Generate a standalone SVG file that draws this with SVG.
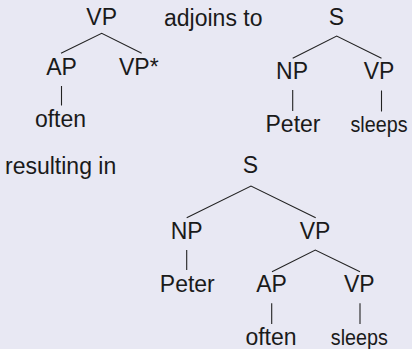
<svg xmlns="http://www.w3.org/2000/svg" width="412" height="349" viewBox="0 0 412 349">
  <style>
    text { font-family: "Liberation Sans", Arial, sans-serif; font-size: 23px; fill: #1a1a1a; }
    .c { text-anchor: middle; }
    .narrow { font-size: 21.5px; }
    .edge { stroke: #222; stroke-width: 1.1; fill: none; }
  </style>
  <rect width="412" height="349" fill="#e8e8f3"/>

  <!-- auxiliary tree: VP -> AP VP* -->
  <g id="t1-vp"><text class="c" x="101.7" y="25.3">VP</text></g>
  <g id="t1-ap"><text class="c" x="61.5" y="75">AP</text></g>
  <g id="t1-vpfoot"><text x="119" y="75">VP*</text></g>
  <g id="t1-often"><text class="c" x="60.5" y="126.7">often</text></g>

  <g id="label-adjoins"><text x="164" y="25.5">adjoins to</text></g>

  <!-- initial tree: S -> NP VP -->
  <g id="t2-s"><text class="c" x="336.3" y="25">S</text></g>
  <g id="t2-np"><text class="c" x="292" y="79">NP</text></g>
  <g id="t2-vp"><text class="c" x="379" y="79">VP</text></g>
  <g id="t2-peter"><text class="c" x="293" y="131.7">Peter</text></g>
  <g id="t2-sleeps"><text class="c narrow" x="379" y="131.7" textLength="57" lengthAdjust="spacingAndGlyphs">sleeps</text></g>

  <g id="label-resulting"><text x="5" y="174">resulting in</text></g>

  <!-- derived tree -->
  <g id="t3-s"><text class="c" x="250.3" y="173">S</text></g>
  <g id="t3-np"><text class="c" x="186.7" y="239">NP</text></g>
  <g id="t3-vp"><text class="c" x="315" y="239">VP</text></g>
  <g id="t3-peter"><text class="c" x="187.3" y="291.7">Peter</text></g>
  <g id="t3-ap"><text class="c" x="271.5" y="292.3">AP</text></g>
  <g id="t3-vp2"><text class="c" x="359.3" y="292.3">VP</text></g>
  <g id="t3-often"><text class="c" x="271" y="344.6">often</text></g>
  <g id="t3-sleeps"><text class="c narrow" x="359.3" y="344.6" textLength="57" lengthAdjust="spacingAndGlyphs">sleeps</text></g>

  <g id="edges" class="edge">
    <polyline class="edge" points="61,53.3 101.7,33.3 141.7,53.3"/>
    <line class="edge" x1="61.5" y1="86" x2="61.5" y2="105.5"/>

    <polyline class="edge" points="292.7,58.3 336.7,36 381.5,58.3"/>
    <line class="edge" x1="292.7" y1="90" x2="292.7" y2="111"/>
    <line class="edge" x1="381.5" y1="90.5" x2="381.5" y2="111.5"/>

    <polyline class="edge" points="186.7,217.7 251,186 315.7,217.7"/>
    <line class="edge" x1="186.7" y1="250" x2="186.7" y2="270"/>
    <polyline class="edge" points="272,271.7 315.3,250 360,271.7"/>
    <line class="edge" x1="271.7" y1="303.3" x2="271.7" y2="324"/>
    <line class="edge" x1="360" y1="303.3" x2="360" y2="324"/>
  </g>
</svg>
